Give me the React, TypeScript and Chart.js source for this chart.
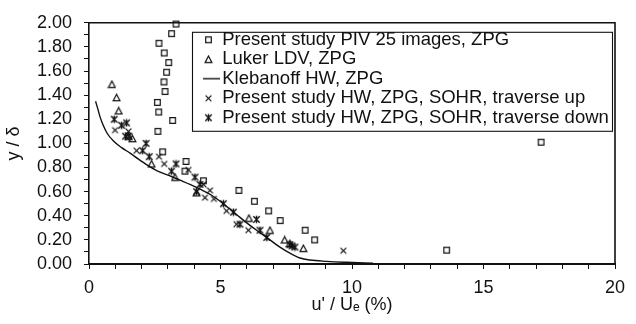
import React, { useEffect, useRef } from 'react';
import Chart from 'chart.js/auto';

// ---- data ----
const pivX = [3.31, 3.14, 2.66, 2.86, 3.03, 2.95, 2.85, 2.89, 2.6, 2.65, 3.18, 2.62, 2.8, 3.69, 3.65, 4.35, 5.7, 6.29, 6.83, 7.27, 8.22, 8.58, 13.6, 17.19];
const pivY = [1.99, 1.91, 1.83, 1.75, 1.67, 1.59, 1.51, 1.43, 1.34, 1.26, 1.19, 1.1, 0.93, 0.85, 0.77, 0.69, 0.61, 0.52, 0.44, 0.36, 0.28, 0.2, 0.115, 1.01];

const lukerX = [0.87, 1.05, 1.13, 1.5, 1.65, 2.38, 3.27, 4.09, 6.08, 6.88, 7.44, 7.64, 8.15];
const lukerY = [1.49, 1.38, 1.27, 1.06, 1.04, 0.83, 0.72, 0.59, 0.38, 0.28, 0.2, 0.17, 0.13];

const klebX = [0.25, 0.33, 0.42, 0.54, 0.7, 0.93, 1.24, 1.56, 1.88, 2.22, 2.57, 3.08, 3.46, 3.84, 4.22, 4.66, 5.11, 5.61, 6.12, 6.5, 6.88, 7.26, 7.64, 8.02, 8.4, 9.04, 9.8, 10.8];
const klebY = [1.35, 1.29, 1.22, 1.15, 1.08, 1.02, 0.965, 0.92, 0.87, 0.82, 0.775, 0.73, 0.695, 0.66, 0.62, 0.57, 0.5, 0.41, 0.32, 0.26, 0.2, 0.14, 0.09, 0.05, 0.033, 0.022, 0.014, 0.006];

const upX = [0.99, 1.5, 1.81, 2.66, 2.86, 3.78, 4.35, 4.6, 4.41, 4.75, 5.23, 5.61, 6.06, 9.67];
const upY = [1.11, 1.1, 0.94, 0.89, 0.83, 0.78, 0.66, 0.61, 0.55, 0.54, 0.44, 0.33, 0.28, 0.11];

const downX = [0.96, 1.24, 1.43, 1.39, 1.52, 2.17, 2.04, 2.29, 3.31, 3.14, 4.03, 4.22, 4.09, 5.11, 5.49, 5.74, 6.37, 6.5, 6.76, 7.64, 7.72, 7.83];
const downY = [1.2, 1.15, 1.17, 1.06, 1.06, 1.0, 0.94, 0.89, 0.83, 0.77, 0.72, 0.66, 0.6, 0.5, 0.43, 0.33, 0.37, 0.28, 0.22, 0.16, 0.15, 0.14];

const seriesNames = [
  'Present study PIV 25 images, ZPG',
  'Luker LDV, ZPG',
  'Klebanoff HW, ZPG',
  'Present study HW, ZPG, SOHR, traverse up',
  'Present study HW, ZPG, SOHR, traverse down',
];

const xTickLabels = ['0', '5', '10', '15', '20'];
const yTickLabels = ['0.00', '0.20', '0.40', '0.60', '0.80', '1.00', '1.20', '1.40', '1.60', '1.80', '2.00'];
const xTitle = "u' / U\u2091 (%)";
const yTitle = 'y / \u03b4';

const INK = '#111';
const FONT = 'Liberation Sans, Arial, sans-serif';

function pairs(xs: number[], ys: number[]) {
  return xs.map((x, i) => ({ x, y: ys[i] }));
}

function marker(kind: string): HTMLCanvasElement {
  const c = document.createElement('canvas');
  if (kind === 'line') {
    c.width = 23;
    c.height = 3;
  } else {
    c.width = 9;
    c.height = 9;
  }
  const g = c.getContext('2d')!;
  g.strokeStyle = INK;
  g.lineWidth = 1.2;
  g.beginPath();
  if (kind === 'line') {
    g.lineWidth = 1.4;
    g.moveTo(0, 1.5);
    g.lineTo(23, 1.5);
  } else if (kind === 'square') {
    g.rect(1.7, 1.7, 5.6, 5.6);
  } else if (kind === 'triangle') {
    g.moveTo(4.5, 1.2);
    g.lineTo(7.9, 7.6);
    g.lineTo(1.1, 7.6);
    g.closePath();
  } else if (kind === 'x') {
    g.moveTo(1.6, 1.6);
    g.lineTo(7.4, 7.4);
    g.moveTo(7.4, 1.6);
    g.lineTo(1.6, 7.4);
  } else {
    g.lineWidth = 1.4;
    g.moveTo(1.3, 1.3);
    g.lineTo(7.7, 7.7);
    g.moveTo(7.7, 1.3);
    g.lineTo(1.3, 7.7);
    g.moveTo(4.5, 0.8);
    g.lineTo(4.5, 8.2);
  }
  g.stroke();
  return c;
}

const framePlugin = {
  id: 'frameAndLegendBox',
  beforeDraw(chart: any) {
    const lg = chart.legend;
    const a = chart.chartArea;
    if (lg) {
      lg.left = a.left + 114;
      lg.top = a.top + 6.75;
      lg.right = a.right;
      lg.bottom = a.bottom;
      lg.width = lg.right - lg.left;
      lg.height = lg.bottom - lg.top;
    }
  },
  afterDraw(chart: any) {
    const ctx = chart.ctx;
    const a = chart.chartArea;
    ctx.save();
    ctx.strokeStyle = INK;
    ctx.lineWidth = 1.6;
    ctx.beginPath();
    ctx.moveTo(a.left, a.top);
    ctx.lineTo(a.right, a.top);
    ctx.lineTo(a.right, a.bottom);
    ctx.stroke();
    ctx.lineWidth = 1.1;
    ctx.strokeRect(a.left + 103.5, a.top + 9.5, a.right - a.left - 106, 99);
    ctx.restore();
  },
};

export default function App() {
  const ref = useRef<HTMLCanvasElement | null>(null);

  useEffect(() => {
    if (!ref.current) return;
    const sq = marker('square');
    const tri = marker('triangle');
    const ln = marker('line');
    const xm = marker('x');
    const ast = marker('ast');

    const chart = new Chart(ref.current, {
      type: 'scatter',
      data: {
        datasets: [
          { label: seriesNames[0], data: pairs(pivX, pivY), pointStyle: sq as any, pointRadius: 4, showLine: false, borderColor: INK, backgroundColor: 'rgba(0,0,0,0)', clip: false as any },
          { label: seriesNames[1], data: pairs(lukerX, lukerY), pointStyle: tri as any, pointRadius: 4, showLine: false, borderColor: INK, backgroundColor: 'rgba(0,0,0,0)', clip: false as any },
          { label: seriesNames[2], data: pairs(klebX, klebY), pointStyle: ln as any, pointRadius: 0, showLine: true, borderColor: INK, borderWidth: 1.4, backgroundColor: INK, cubicInterpolationMode: 'monotone' as any },
          { label: seriesNames[3], data: pairs(upX, upY), pointStyle: xm as any, pointRadius: 4, showLine: false, borderColor: INK, backgroundColor: INK, clip: false as any },
          { label: seriesNames[4], data: pairs(downX, downY), pointStyle: ast as any, pointRadius: 4, showLine: false, borderColor: INK, backgroundColor: INK, clip: false as any },
        ],
      },
      options: {
        animation: false,
        responsive: false,
        maintainAspectRatio: false,
        events: [],
        layout: { padding: { left: 0, right: 21, top: 20, bottom: 0 } },
        plugins: {
          tooltip: { enabled: false },
          legend: {
            position: 'chartArea' as any,
            align: 'start',
            labels: {
              usePointStyle: true,
              pointStyleWidth: 9,
              boxHeight: 9,
              padding: 1,
              color: INK,
              font: { family: FONT, size: 18.5 },
            },
          },
        },
        scales: {
          x: {
            type: 'linear',
            min: 0,
            max: 20,
            afterFit: (s: any) => { s.height = 60; },
            border: { display: true, color: INK, width: 2 },
            grid: { drawOnChartArea: false, drawTicks: true, tickLength: 5, color: INK, lineWidth: 1 },
            ticks: {
              stepSize: 1,
              autoSkip: false,
              maxRotation: 0,
              padding: 8,
              color: INK,
              font: { family: FONT, size: 18 },
              callback: (v: any) => (Number(v) % 5 === 0 ? xTickLabels[Number(v) / 5] : ''),
            },
            title: { display: true, text: xTitle, color: INK, font: { family: FONT, size: 18 }, padding: { top: 0, bottom: 8 } },
          },
          y: {
            type: 'linear',
            min: 0,
            max: 2,
            afterFit: (s: any) => { s.width = 89; },
            border: { display: true, color: INK, width: 1.6 },
            grid: { drawOnChartArea: false, drawTicks: true, tickLength: 5, color: INK, lineWidth: 1 },
            ticks: {
              stepSize: 0.1,
              autoSkip: false,
              padding: 12,
              color: INK,
              font: { family: FONT, size: 18 },
              callback: (v: any) => {
                const r = Math.round(Number(v) * 10);
                return r % 2 === 0 ? yTickLabels[r / 2] : '';
              },
            },
            title: { display: true, text: yTitle, color: INK, font: { family: FONT, size: 18 }, padding: { top: 3, bottom: 0 } },
          },
        },
      },
      plugins: [framePlugin],
    });
    return () => chart.destroy();
  }, []);

  return (
    <div style={{ position: 'absolute', left: 0, top: 0, width: 636, height: 324, background: '#fff' }}>
      <canvas ref={ref} width={636} height={324} style={{ display: 'block' }} />
    </div>
  );
}
